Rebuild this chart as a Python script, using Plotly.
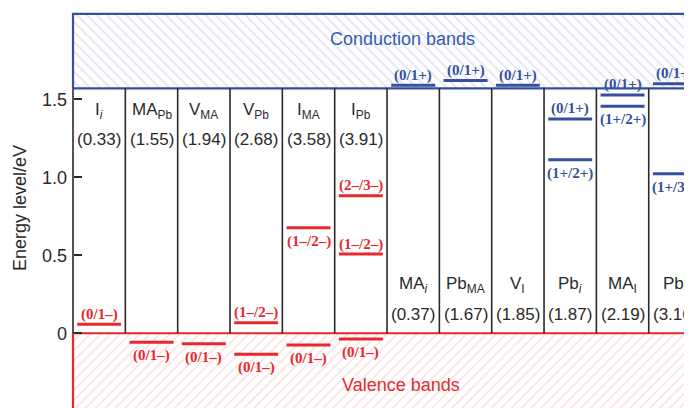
import plotly.graph_objects as go

# ---------------- data ----------------
defect_names = ["I<sub><i>i</i></sub>", "MA<sub>Pb</sub>", "V<sub>MA</sub>", "V<sub>Pb</sub>",
                "I<sub>MA</sub>", "I<sub>Pb</sub>", "MA<sub><i>i</i></sub>", "Pb<sub>MA</sub>",
                "V<sub>I</sub>", "Pb<sub><i>i</i></sub>", "MA<sub>I</sub>", "Pb<sub>I</sub>"]
formation_energy = [0.33, 1.55, 1.94, 2.68, 3.58, 3.91, 0.37, 1.67, 1.85, 1.87, 2.19, 3.16]
name_at_top = [True] * 6 + [False] * 6

band_gap = 1.57
cb_top = 2.047
vb_bottom = -0.7

# acceptor (red) levels
acc_col = [0, 1, 2, 3, 3, 4, 4, 5, 5, 5]
acc_E = [0.058, -0.058, -0.067, 0.068, -0.135, 0.677, -0.075, 0.882, 0.508, -0.037]
acc_label = ["(0/1–)", "(0/1–)", "(0/1–)", "(1–/2–)", "(0/1–)", "(1–/2–)", "(0/1–)",
             "(2–/3–)", "(1–/2–)", "(0/1–)"]
acc_above = [True, False, False, True, False, False, False, True, True, False]

# donor (blue) levels
don_col = [6, 7, 8, 9, 9, 10, 10, 11, 11]
don_E = [1.59, 1.62, 1.59, 1.374, 1.113, 1.528, 1.455, 1.60, 1.023]
don_label = ["(0/1+)", "(0/1+)", "(0/1+)", "(0/1+)", "(1+/2+)", "(0/1+)", "(1+/2+)",
             "(0/1+)", "(1+/3+)"]
don_above = [True, True, True, True, False, True, False, True, False]

y_ticks = [0, 0.5, 1.0, 1.5]
y_ticktext = ["0", "0.5", "1.0", "1.5"]

# ---------------- styles ----------------
RED = "#e8282d"
BLUE = "#34509e"
CB_TEXT = "#2f5db3"
DARK = "#2a2a2a"
SANS = "Liberation Sans, Arial, sans-serif"
SERIF = "Liberation Serif, Times New Roman, serif"
n_col = len(defect_names)
x_left, x_right = -0.2484, 11.827
inset = 0.08

fig = go.Figure()

# conduction band box
fig.add_trace(go.Scatter(
    x=[0, 0, n_col + 1, n_col + 1, 0], y=[band_gap, cb_top, cb_top, band_gap, band_gap],
    mode="lines", fill="toself", line=dict(color=BLUE, width=2.2),
    fillcolor="white",
    fillpattern=dict(shape="\\", fgcolor="#b9bde0", bgcolor="white", size=7, solidity=0.2),
    hoverinfo="skip", showlegend=False))
# valence band box
fig.add_trace(go.Scatter(
    x=[0, 0, n_col + 1, n_col + 1, 0], y=[vb_bottom, 0, 0, vb_bottom, vb_bottom],
    mode="lines", fill="toself", line=dict(color=RED, width=2.2),
    fillcolor="white",
    fillpattern=dict(shape="/", fgcolor="#f5b9bd", bgcolor="white", size=7, solidity=0.2),
    hoverinfo="skip", showlegend=False))

# column separators and left spine
sep_x, sep_y = [], []
for k in range(n_col):
    sep_x += [k, k, None]
    sep_y += [0, band_gap, None]
fig.add_trace(go.Scatter(x=sep_x, y=sep_y, mode="lines",
                         line=dict(color=DARK, width=1.6), hoverinfo="skip", showlegend=False))

# defect levels
def level_trace(cols, energies, color):
    xs, ys = [], []
    for c, e in zip(cols, energies):
        xs += [c + inset, c + 1 - inset, None]
        ys += [e, e, None]
    return go.Scatter(x=xs, y=ys, mode="lines", line=dict(color=color, width=3),
                      hoverinfo="skip", showlegend=False)

fig.add_trace(level_trace(acc_col, acc_E, RED))
fig.add_trace(level_trace(don_col, don_E, BLUE))

annotations = []
for cols, energies, labels, above, color in [
        (acc_col, acc_E, acc_label, acc_above, RED),
        (don_col, don_E, don_label, don_above, BLUE)]:
    for c, e, lab, ab in zip(cols, energies, labels, above):
        annotations.append(dict(
            x=c + 0.5, y=e, xref="x", yref="y", text="<b>" + lab + "</b>",
            showarrow=False, xanchor="center", yanchor="middle", yshift=10 if ab else -13.5,
            font=dict(family=SERIF, size=15, color=color)))

for k, (nm, fe, top) in enumerate(zip(defect_names, formation_energy, name_at_top)):
    y_name, y_val = (0.7425, 0.672) if top else (0.3075, 0.235)
    annotations.append(dict(x=k + 0.5, y=y_name, xref="x", yref="paper", text=nm,
                            showarrow=False, xanchor="center", yanchor="middle",
                            font=dict(family=SANS, size=17, color=DARK)))
    annotations.append(dict(x=k + 0.5, y=y_val, xref="x", yref="paper", text=f"({fe:.2f})",
                            showarrow=False, xanchor="center", yanchor="middle",
                            font=dict(family=SANS, size=17, color=DARK)))

annotations.append(dict(x=0.542, y=0.922, xref="paper", yref="paper", text="Conduction bands",
                        showarrow=False, xanchor="center", yanchor="middle",
                        font=dict(family=SANS, size=18, color=CB_TEXT)))
annotations.append(dict(x=0.539, y=0.0575, xref="paper", yref="paper", text="Valence bands",
                        showarrow=False, xanchor="center", yanchor="middle",
                        font=dict(family=SANS, size=18, color=RED)))

# the page adds an 8 px body margin, so the figure is 8 px smaller on each axis
fig.update_layout(
    width=684, height=400,
    margin=dict(l=52, r=0, t=0, b=0),
    paper_bgcolor="white", plot_bgcolor="white",
    showlegend=False,
    annotations=annotations,
    xaxis=dict(range=[x_left, x_right], visible=False, fixedrange=True),
    yaxis=dict(range=[-0.479, 2.085], anchor="free", position=13 / 632,
               tickvals=y_ticks, ticktext=y_ticktext, ticks="inside", ticklen=8,
               tickwidth=1.6, tickcolor=DARK, showline=False, showgrid=False, zeroline=False,
               tickfont=dict(family=SANS, size=18, color=DARK), ticklabelstandoff=6,
               title=dict(text="Energy level/eV", font=dict(family=SANS, size=18, color=DARK),
                          standoff=9)),
)

fig.write_html("out.html")
